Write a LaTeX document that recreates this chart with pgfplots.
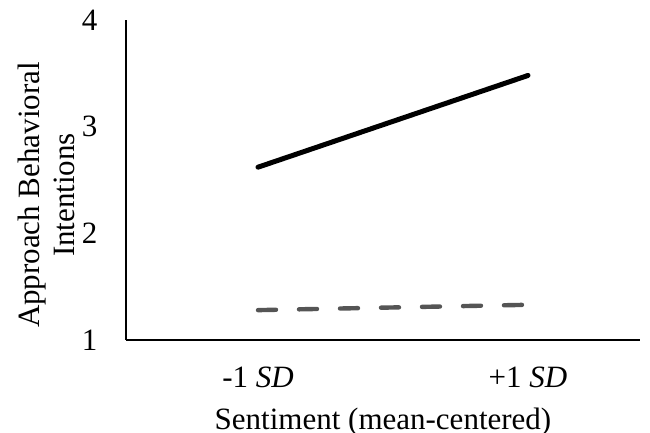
\documentclass[border=0pt]{standalone}
\usepackage{fontspec}
\setmainfont{Liberation Serif}
\usepackage{pgfplots}
\pgfplotsset{compat=1.18}
\begin{document}
\fontsize{15.5}{17.5}\selectfont
\begin{tikzpicture}
\useasboundingbox (-63pt,-46.5pt) rectangle (262pt,170pt);
\begin{axis}[
  at={(0,0)}, anchor=south west,
  scale only axis,
  width=257pt, height=160pt,
  xmin=-0.489, xmax=1.415,
  ymin=1, ymax=4,
  axis x line*=bottom, axis y line*=left,
  axis line style={line width=1pt, black},
  xtick={0,1}, xticklabels={-1 \textit{SD}, +1 \textit{SD}},
  ytick={1,2,3,4},
  major tick length=0pt,
  xticklabel style={yshift=-8pt},
  yticklabel style={xshift=-9pt},
  /pgf/number format/assume math mode=true,
  ticklabel style={font=\fontsize{15.5}{17.5}\selectfont},
  xlabel={Sentiment (mean-centered)},
  xlabel style={font=\fontsize{15.5}{17.5}\selectfont, yshift=0.5pt},
  ylabel={Approach Behavioral\\Intentions},
  ylabel style={font=\fontsize{15.5}{17.5}\selectfont, align=center, yshift=-7pt, xshift=-7.5pt},
  clip=false,
]
\addplot[black, line width=2.5pt, line cap=round] coordinates {(0,2.62) (1,3.48)};
\addplot[color={rgb,255:red,85;green,85;blue,85}, line width=2.2pt, line cap=round, dash pattern=on 9pt off 11.5pt] coordinates {(0,1.28) (1,1.33)};
\end{axis}
\end{tikzpicture}
\end{document}
